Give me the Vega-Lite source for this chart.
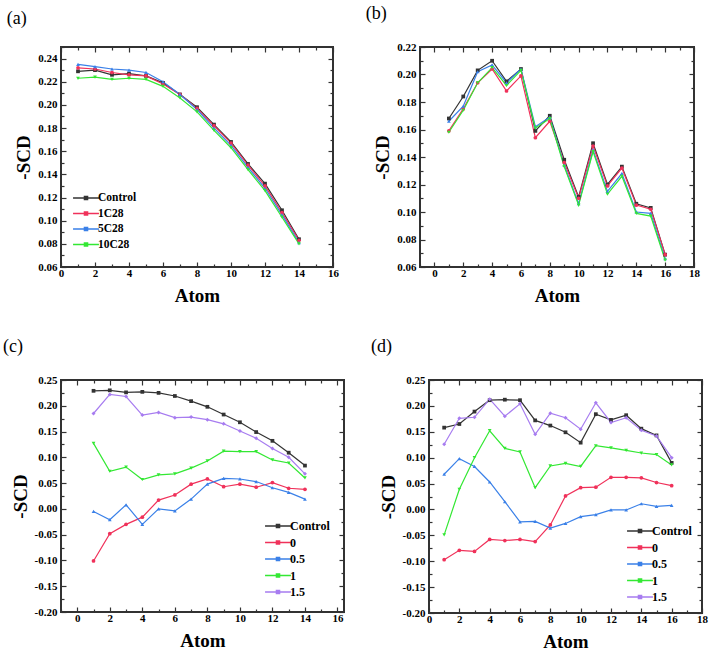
{
"$schema":"https://vega.github.io/schema/vega-lite/v6.json",
"background":"white",
"padding":{"left":2,"top":4,"right":2,"bottom":2},
"autosize":{"type":"pad"},
"config":{
 "view":{"stroke":"#333333","strokeWidth":1.5},
 "font":"Liberation Serif",
 "axis":{"domain":false,"grid":false,"ticks":true,"tickOpacity":1,"labelFont":"Liberation Serif","labelFontWeight":"bold","labelFontSize":11,"labelColor":"black","titleFont":"Liberation Serif","titleFontWeight":"bold","titleFontSize":19,"titleColor":"black","tickColor":"#333333","tickWidth":1.2,"labelFlush":false,"labelOverlap":false},
 "legend":{"labelFont":"Liberation Serif","labelFontWeight":"bold","labelFontSize":11.5,"labelColor":"black","padding":0,"rowPadding":1.5,"title":null,"symbolSize":196,"symbolStrokeWidth":1.5,"labelOffset":4},
 "title":{"font":"Liberation Serif","fontSize":18,"fontWeight":"normal","color":"black","anchor":"start","frame":"bounds","offset":18}
},
"datasets":{
"a":[
{"atom":1,"value":0.229,"series":"Control"},{"atom":2,"value":0.230,"series":"Control"},{"atom":3,"value":0.226,"series":"Control"},{"atom":4,"value":0.227,"series":"Control"},{"atom":5,"value":0.225,"series":"Control"},{"atom":6,"value":0.219,"series":"Control"},{"atom":7,"value":0.209,"series":"Control"},{"atom":8,"value":0.198,"series":"Control"},{"atom":9,"value":0.183,"series":"Control"},{"atom":10,"value":0.168,"series":"Control"},{"atom":11,"value":0.149,"series":"Control"},{"atom":12,"value":0.132,"series":"Control"},{"atom":13,"value":0.109,"series":"Control"},{"atom":14,"value":0.084,"series":"Control"},
{"atom":1,"value":0.232,"series":"1C28"},{"atom":2,"value":0.231,"series":"1C28"},{"atom":3,"value":0.228,"series":"1C28"},{"atom":4,"value":0.226,"series":"1C28"},{"atom":5,"value":0.225,"series":"1C28"},{"atom":6,"value":0.218,"series":"1C28"},{"atom":7,"value":0.209,"series":"1C28"},{"atom":8,"value":0.197,"series":"1C28"},{"atom":9,"value":0.182,"series":"1C28"},{"atom":10,"value":0.167,"series":"1C28"},{"atom":11,"value":0.148,"series":"1C28"},{"atom":12,"value":0.130,"series":"1C28"},{"atom":13,"value":0.107,"series":"1C28"},{"atom":14,"value":0.083,"series":"1C28"},
{"atom":1,"value":0.235,"series":"5C28"},{"atom":2,"value":0.233,"series":"5C28"},{"atom":3,"value":0.231,"series":"5C28"},{"atom":4,"value":0.230,"series":"5C28"},{"atom":5,"value":0.228,"series":"5C28"},{"atom":6,"value":0.220,"series":"5C28"},{"atom":7,"value":0.209,"series":"5C28"},{"atom":8,"value":0.196,"series":"5C28"},{"atom":9,"value":0.180,"series":"5C28"},{"atom":10,"value":0.165,"series":"5C28"},{"atom":11,"value":0.146,"series":"5C28"},{"atom":12,"value":0.128,"series":"5C28"},{"atom":13,"value":0.105,"series":"5C28"},{"atom":14,"value":0.081,"series":"5C28"},
{"atom":1,"value":0.223,"series":"10C28"},{"atom":2,"value":0.224,"series":"10C28"},{"atom":3,"value":0.222,"series":"10C28"},{"atom":4,"value":0.223,"series":"10C28"},{"atom":5,"value":0.222,"series":"10C28"},{"atom":6,"value":0.216,"series":"10C28"},{"atom":7,"value":0.206,"series":"10C28"},{"atom":8,"value":0.194,"series":"10C28"},{"atom":9,"value":0.178,"series":"10C28"},{"atom":10,"value":0.163,"series":"10C28"},{"atom":11,"value":0.144,"series":"10C28"},{"atom":12,"value":0.126,"series":"10C28"},{"atom":13,"value":0.103,"series":"10C28"},{"atom":14,"value":0.080,"series":"10C28"}
],
"b":[
{"atom":1,"value":0.168,"series":"Control"},{"atom":2,"value":0.184,"series":"Control"},{"atom":3,"value":0.203,"series":"Control"},{"atom":4,"value":0.210,"series":"Control"},{"atom":5,"value":0.195,"series":"Control"},{"atom":6,"value":0.204,"series":"Control"},{"atom":7,"value":0.159,"series":"Control"},{"atom":8,"value":0.170,"series":"Control"},{"atom":9,"value":0.138,"series":"Control"},{"atom":10,"value":0.111,"series":"Control"},{"atom":11,"value":0.150,"series":"Control"},{"atom":12,"value":0.120,"series":"Control"},{"atom":13,"value":0.133,"series":"Control"},{"atom":14,"value":0.106,"series":"Control"},{"atom":15,"value":0.103,"series":"Control"},{"atom":16,"value":0.069,"series":"Control"},
{"atom":1,"value":0.159,"series":"1C28"},{"atom":2,"value":0.175,"series":"1C28"},{"atom":3,"value":0.194,"series":"1C28"},{"atom":4,"value":0.204,"series":"1C28"},{"atom":5,"value":0.188,"series":"1C28"},{"atom":6,"value":0.199,"series":"1C28"},{"atom":7,"value":0.154,"series":"1C28"},{"atom":8,"value":0.166,"series":"1C28"},{"atom":9,"value":0.136,"series":"1C28"},{"atom":10,"value":0.110,"series":"1C28"},{"atom":11,"value":0.148,"series":"1C28"},{"atom":12,"value":0.119,"series":"1C28"},{"atom":13,"value":0.132,"series":"1C28"},{"atom":14,"value":0.105,"series":"1C28"},{"atom":15,"value":0.102,"series":"1C28"},{"atom":16,"value":0.069,"series":"1C28"},
{"atom":1,"value":0.166,"series":"5C28"},{"atom":2,"value":0.177,"series":"5C28"},{"atom":3,"value":0.202,"series":"5C28"},{"atom":4,"value":0.207,"series":"5C28"},{"atom":5,"value":0.194,"series":"5C28"},{"atom":6,"value":0.204,"series":"5C28"},{"atom":7,"value":0.162,"series":"5C28"},{"atom":8,"value":0.169,"series":"5C28"},{"atom":9,"value":0.134,"series":"5C28"},{"atom":10,"value":0.106,"series":"5C28"},{"atom":11,"value":0.145,"series":"5C28"},{"atom":12,"value":0.115,"series":"5C28"},{"atom":13,"value":0.128,"series":"5C28"},{"atom":14,"value":0.100,"series":"5C28"},{"atom":15,"value":0.099,"series":"5C28"},{"atom":16,"value":0.066,"series":"5C28"},
{"atom":1,"value":0.158,"series":"10C28"},{"atom":2,"value":0.174,"series":"10C28"},{"atom":3,"value":0.194,"series":"10C28"},{"atom":4,"value":0.205,"series":"10C28"},{"atom":5,"value":0.192,"series":"10C28"},{"atom":6,"value":0.203,"series":"10C28"},{"atom":7,"value":0.161,"series":"10C28"},{"atom":8,"value":0.168,"series":"10C28"},{"atom":9,"value":0.133,"series":"10C28"},{"atom":10,"value":0.105,"series":"10C28"},{"atom":11,"value":0.144,"series":"10C28"},{"atom":12,"value":0.113,"series":"10C28"},{"atom":13,"value":0.126,"series":"10C28"},{"atom":14,"value":0.099,"series":"10C28"},{"atom":15,"value":0.097,"series":"10C28"},{"atom":16,"value":0.065,"series":"10C28"}
],
"c":[
{"atom":1,"value":0.229,"series":"Control"},{"atom":2,"value":0.230,"series":"Control"},{"atom":3,"value":0.226,"series":"Control"},{"atom":4,"value":0.227,"series":"Control"},{"atom":5,"value":0.225,"series":"Control"},{"atom":6,"value":0.219,"series":"Control"},{"atom":7,"value":0.209,"series":"Control"},{"atom":8,"value":0.198,"series":"Control"},{"atom":9,"value":0.183,"series":"Control"},{"atom":10,"value":0.168,"series":"Control"},{"atom":11,"value":0.149,"series":"Control"},{"atom":12,"value":0.132,"series":"Control"},{"atom":13,"value":0.109,"series":"Control"},{"atom":14,"value":0.084,"series":"Control"},
{"atom":1,"value":-0.101,"series":"0"},{"atom":2,"value":-0.048,"series":"0"},{"atom":3,"value":-0.030,"series":"0"},{"atom":4,"value":-0.016,"series":"0"},{"atom":5,"value":0.017,"series":"0"},{"atom":6,"value":0.027,"series":"0"},{"atom":7,"value":0.048,"series":"0"},{"atom":8,"value":0.058,"series":"0"},{"atom":9,"value":0.043,"series":"0"},{"atom":10,"value":0.048,"series":"0"},{"atom":11,"value":0.042,"series":"0"},{"atom":12,"value":0.051,"series":"0"},{"atom":13,"value":0.040,"series":"0"},{"atom":14,"value":0.038,"series":"0"},
{"atom":1,"value":-0.005,"series":"0.5"},{"atom":2,"value":-0.021,"series":"0.5"},{"atom":3,"value":0.008,"series":"0.5"},{"atom":4,"value":-0.030,"series":"0.5"},{"atom":5,"value":0.000,"series":"0.5"},{"atom":6,"value":-0.004,"series":"0.5"},{"atom":7,"value":0.019,"series":"0.5"},{"atom":8,"value":0.048,"series":"0.5"},{"atom":9,"value":0.059,"series":"0.5"},{"atom":10,"value":0.058,"series":"0.5"},{"atom":11,"value":0.053,"series":"0.5"},{"atom":12,"value":0.041,"series":"0.5"},{"atom":13,"value":0.032,"series":"0.5"},{"atom":14,"value":0.019,"series":"0.5"},
{"atom":1,"value":0.127,"series":"1"},{"atom":2,"value":0.073,"series":"1"},{"atom":3,"value":0.081,"series":"1"},{"atom":4,"value":0.057,"series":"1"},{"atom":5,"value":0.066,"series":"1"},{"atom":6,"value":0.068,"series":"1"},{"atom":7,"value":0.079,"series":"1"},{"atom":8,"value":0.093,"series":"1"},{"atom":9,"value":0.112,"series":"1"},{"atom":10,"value":0.111,"series":"1"},{"atom":11,"value":0.111,"series":"1"},{"atom":12,"value":0.095,"series":"1"},{"atom":13,"value":0.089,"series":"1"},{"atom":14,"value":0.060,"series":"1"},
{"atom":1,"value":0.185,"series":"1.5"},{"atom":2,"value":0.222,"series":"1.5"},{"atom":3,"value":0.218,"series":"1.5"},{"atom":4,"value":0.182,"series":"1.5"},{"atom":5,"value":0.187,"series":"1.5"},{"atom":6,"value":0.177,"series":"1.5"},{"atom":7,"value":0.178,"series":"1.5"},{"atom":8,"value":0.173,"series":"1.5"},{"atom":9,"value":0.165,"series":"1.5"},{"atom":10,"value":0.151,"series":"1.5"},{"atom":11,"value":0.137,"series":"1.5"},{"atom":12,"value":0.117,"series":"1.5"},{"atom":13,"value":0.100,"series":"1.5"},{"atom":14,"value":0.068,"series":"1.5"}
],
"d":[
{"atom":1,"value":0.158,"series":"Control"},{"atom":2,"value":0.165,"series":"Control"},{"atom":3,"value":0.189,"series":"Control"},{"atom":4,"value":0.211,"series":"Control"},{"atom":5,"value":0.212,"series":"Control"},{"atom":6,"value":0.211,"series":"Control"},{"atom":7,"value":0.172,"series":"Control"},{"atom":8,"value":0.162,"series":"Control"},{"atom":9,"value":0.149,"series":"Control"},{"atom":10,"value":0.129,"series":"Control"},{"atom":11,"value":0.184,"series":"Control"},{"atom":12,"value":0.173,"series":"Control"},{"atom":13,"value":0.182,"series":"Control"},{"atom":14,"value":0.156,"series":"Control"},{"atom":15,"value":0.143,"series":"Control"},{"atom":16,"value":0.090,"series":"Control"},
{"atom":1,"value":-0.097,"series":"0"},{"atom":2,"value":-0.079,"series":"0"},{"atom":3,"value":-0.081,"series":"0"},{"atom":4,"value":-0.058,"series":"0"},{"atom":5,"value":-0.060,"series":"0"},{"atom":6,"value":-0.058,"series":"0"},{"atom":7,"value":-0.062,"series":"0"},{"atom":8,"value":-0.030,"series":"0"},{"atom":9,"value":0.026,"series":"0"},{"atom":10,"value":0.042,"series":"0"},{"atom":11,"value":0.043,"series":"0"},{"atom":12,"value":0.062,"series":"0"},{"atom":13,"value":0.062,"series":"0"},{"atom":14,"value":0.061,"series":"0"},{"atom":15,"value":0.052,"series":"0"},{"atom":16,"value":0.046,"series":"0"},
{"atom":1,"value":0.068,"series":"0.5"},{"atom":2,"value":0.098,"series":"0.5"},{"atom":3,"value":0.083,"series":"0.5"},{"atom":4,"value":0.053,"series":"0.5"},{"atom":5,"value":0.015,"series":"0.5"},{"atom":6,"value":-0.024,"series":"0.5"},{"atom":7,"value":-0.023,"series":"0.5"},{"atom":8,"value":-0.036,"series":"0.5"},{"atom":9,"value":-0.027,"series":"0.5"},{"atom":10,"value":-0.014,"series":"0.5"},{"atom":11,"value":-0.010,"series":"0.5"},{"atom":12,"value":-0.001,"series":"0.5"},{"atom":13,"value":-0.001,"series":"0.5"},{"atom":14,"value":0.011,"series":"0.5"},{"atom":15,"value":0.006,"series":"0.5"},{"atom":16,"value":0.008,"series":"0.5"},
{"atom":1,"value":-0.049,"series":"1"},{"atom":2,"value":0.039,"series":"1"},{"atom":3,"value":0.100,"series":"1"},{"atom":4,"value":0.152,"series":"1"},{"atom":5,"value":0.118,"series":"1"},{"atom":6,"value":0.111,"series":"1"},{"atom":7,"value":0.042,"series":"1"},{"atom":8,"value":0.084,"series":"1"},{"atom":9,"value":0.089,"series":"1"},{"atom":10,"value":0.083,"series":"1"},{"atom":11,"value":0.123,"series":"1"},{"atom":12,"value":0.119,"series":"1"},{"atom":13,"value":0.114,"series":"1"},{"atom":14,"value":0.109,"series":"1"},{"atom":15,"value":0.106,"series":"1"},{"atom":16,"value":0.086,"series":"1"},
{"atom":1,"value":0.126,"series":"1.5"},{"atom":2,"value":0.176,"series":"1.5"},{"atom":3,"value":0.178,"series":"1.5"},{"atom":4,"value":0.213,"series":"1.5"},{"atom":5,"value":0.180,"series":"1.5"},{"atom":6,"value":0.204,"series":"1.5"},{"atom":7,"value":0.145,"series":"1.5"},{"atom":8,"value":0.186,"series":"1.5"},{"atom":9,"value":0.177,"series":"1.5"},{"atom":10,"value":0.155,"series":"1.5"},{"atom":11,"value":0.206,"series":"1.5"},{"atom":12,"value":0.168,"series":"1.5"},{"atom":13,"value":0.177,"series":"1.5"},{"atom":14,"value":0.153,"series":"1.5"},{"atom":15,"value":0.142,"series":"1.5"},{"atom":16,"value":0.100,"series":"1.5"}
]
},
"spacing":31,
"resolve":{"scale":{"color":"independent"},"legend":{"color":"independent"}},
"vconcat":[
{"hconcat":[
 {"title":{"text":"(a)","dx":-8},"width":272,"height":220,"data":{"name":"a"},
  "resolve":{"axis":{"x":"independent","y":"independent"}},
  "layer":[
   {"mark":{"type":"line","strokeWidth":1.2},
    "encoding":{
     "x":{"field":"atom","type":"quantitative","scale":{"domain":[0,16],"nice":false,"zero":false},"axis":{"orient":"bottom","title":"Atom","titlePadding":8,"labelPadding":5,"values":[0,2,4,6,8,10,12,14,16],"format":"d","tickSize":-5}},
     "y":{"field":"value","type":"quantitative","scale":{"domain":[0.06,0.25],"nice":false,"zero":false},"axis":{"orient":"left","title":"-SCD","titlePadding":4,"labelPadding":9,"values":[0.06,0.08,0.10,0.12,0.14,0.16,0.18,0.20,0.22,0.24],"format":".2f","tickSize":-5}},
     "color":{"field":"series","type":"nominal","scale":{"domain":["Control","1C28","5C28","10C28"],"range":["#333333","#f0315a","#3a80e8","#33e833"]},"legend":{"orient":"bottom-left","offset":17,"symbolType":"M-1.85,0H1.85M-0.22,-0.22H0.22V0.22H-0.22Z"}}}},
   {"mark":{"type":"point","opacity":0},
    "encoding":{
     "x":{"field":"atom","type":"quantitative","axis":{"orient":"top","title":null,"labels":false,"values":[0,2,4,6,8,10,12,14,16],"tickSize":-5}},
     "y":{"field":"value","type":"quantitative","axis":{"orient":"right","title":null,"labels":false,"values":[0.06,0.08,0.10,0.12,0.14,0.16,0.18,0.20,0.22,0.24],"tickSize":-5}}}},
   {"mark":{"type":"point","opacity":0},
    "encoding":{
     "x":{"field":"atom","type":"quantitative","axis":{"orient":"bottom","title":null,"labels":false,"values":[1,3,5,7,9,11,13,15],"tickSize":-3}},
     "y":{"field":"value","type":"quantitative","axis":{"orient":"left","title":null,"labels":false,"values":[0.07,0.09,0.11,0.13,0.15,0.17,0.19,0.21,0.23,0.25],"tickSize":-3}}}},
   {"mark":{"type":"point","opacity":0},
    "encoding":{
     "x":{"field":"atom","type":"quantitative","axis":{"orient":"top","title":null,"labels":false,"values":[1,3,5,7,9,11,13,15],"tickSize":-3}},
     "y":{"field":"value","type":"quantitative","axis":{"orient":"right","title":null,"labels":false,"values":[0.07,0.09,0.11,0.13,0.15,0.17,0.19,0.21,0.23,0.25],"tickSize":-3}}}},
   {"mark":{"type":"rect","fill":"transparent","stroke":"#333333","strokeWidth":1.5},"encoding":{"x":{"datum":0,"type":"quantitative","axis":null},"x2":{"datum":16},"y":{"datum":0.06,"type":"quantitative","axis":null},"y2":{"datum":0.25}}},
   {"transform":[{"filter":"datum.series === 'Control'"}],"mark":{"type":"point","shape":"square","filled":true,"size":14,"opacity":1,"color":"#333333"},"encoding":{"x":{"field":"atom","type":"quantitative","axis":null},"y":{"field":"value","type":"quantitative","axis":null}}},
   {"transform":[{"filter":"datum.series === '1C28'"}],"mark":{"type":"point","shape":"circle","filled":true,"size":14,"opacity":1,"color":"#f0315a"},"encoding":{"x":{"field":"atom","type":"quantitative","axis":null},"y":{"field":"value","type":"quantitative","axis":null}}},
   {"transform":[{"filter":"datum.series === '5C28'"}],"mark":{"type":"point","shape":"triangle-up","filled":true,"size":14,"opacity":1,"color":"#3a80e8"},"encoding":{"x":{"field":"atom","type":"quantitative","axis":null},"y":{"field":"value","type":"quantitative","axis":null}}},
   {"transform":[{"filter":"datum.series === '10C28'"}],"mark":{"type":"point","shape":"triangle-down","filled":true,"size":14,"opacity":1,"color":"#33e833"},"encoding":{"x":{"field":"atom","type":"quantitative","axis":null},"y":{"field":"value","type":"quantitative","axis":null}}}
  ]},
 {"title":{"text":"(b)","dx":-8},"width":274,"height":220,"data":{"name":"b"},
  "resolve":{"axis":{"x":"independent","y":"independent"}},
  "layer":[
   {"mark":{"type":"line","strokeWidth":1.2},
    "encoding":{
     "x":{"field":"atom","type":"quantitative","scale":{"domain":[-1,18],"nice":false,"zero":false},"axis":{"orient":"bottom","title":"Atom","titlePadding":8,"labelPadding":5,"values":[0,2,4,6,8,10,12,14,16,18],"format":"d","tickSize":-5}},
     "y":{"field":"value","type":"quantitative","scale":{"domain":[0.06,0.22],"nice":false,"zero":false},"axis":{"orient":"left","title":"-SCD","titlePadding":4,"labelPadding":9,"values":[0.06,0.08,0.10,0.12,0.14,0.16,0.18,0.20,0.22],"format":".2f","tickSize":-5}},
     "color":{"field":"series","type":"nominal","scale":{"domain":["Control","1C28","5C28","10C28"],"range":["#333333","#f0315a","#3a80e8","#33e833"]},"legend":null}}},
   {"mark":{"type":"point","opacity":0},
    "encoding":{
     "x":{"field":"atom","type":"quantitative","axis":{"orient":"top","title":null,"labels":false,"values":[0,2,4,6,8,10,12,14,16,18],"tickSize":-5}},
     "y":{"field":"value","type":"quantitative","axis":{"orient":"right","title":null,"labels":false,"values":[0.06,0.08,0.10,0.12,0.14,0.16,0.18,0.20,0.22],"tickSize":-5}}}},
   {"mark":{"type":"point","opacity":0},
    "encoding":{
     "x":{"field":"atom","type":"quantitative","axis":{"orient":"bottom","title":null,"labels":false,"values":[-1,1,3,5,7,9,11,13,15,17],"tickSize":-3}},
     "y":{"field":"value","type":"quantitative","axis":{"orient":"left","title":null,"labels":false,"values":[0.07,0.09,0.11,0.13,0.15,0.17,0.19,0.21],"tickSize":-3}}}},
   {"mark":{"type":"point","opacity":0},
    "encoding":{
     "x":{"field":"atom","type":"quantitative","axis":{"orient":"top","title":null,"labels":false,"values":[-1,1,3,5,7,9,11,13,15,17],"tickSize":-3}},
     "y":{"field":"value","type":"quantitative","axis":{"orient":"right","title":null,"labels":false,"values":[0.07,0.09,0.11,0.13,0.15,0.17,0.19,0.21],"tickSize":-3}}}},
   {"mark":{"type":"rect","fill":"transparent","stroke":"#333333","strokeWidth":1.5},"encoding":{"x":{"datum":-1,"type":"quantitative","axis":null},"x2":{"datum":18},"y":{"datum":0.06,"type":"quantitative","axis":null},"y2":{"datum":0.22}}},
   {"transform":[{"filter":"datum.series === 'Control'"}],"mark":{"type":"point","shape":"square","filled":true,"size":14,"opacity":1,"color":"#333333"},"encoding":{"x":{"field":"atom","type":"quantitative","axis":null},"y":{"field":"value","type":"quantitative","axis":null}}},
   {"transform":[{"filter":"datum.series === '1C28'"}],"mark":{"type":"point","shape":"circle","filled":true,"size":14,"opacity":1,"color":"#f0315a"},"encoding":{"x":{"field":"atom","type":"quantitative","axis":null},"y":{"field":"value","type":"quantitative","axis":null}}},
   {"transform":[{"filter":"datum.series === '5C28'"}],"mark":{"type":"point","shape":"triangle-up","filled":true,"size":14,"opacity":1,"color":"#3a80e8"},"encoding":{"x":{"field":"atom","type":"quantitative","axis":null},"y":{"field":"value","type":"quantitative","axis":null}}},
   {"transform":[{"filter":"datum.series === '10C28'"}],"mark":{"type":"point","shape":"triangle-down","filled":true,"size":14,"opacity":1,"color":"#33e833"},"encoding":{"x":{"field":"atom","type":"quantitative","axis":null},"y":{"field":"value","type":"quantitative","axis":null}}}
  ]}
 ],"spacing":25,
 "resolve":{"scale":{"color":"independent"},"legend":{"color":"independent"}}},
{"hconcat":[
 {"title":{"text":"(c)","dx":-8},"width":283,"height":232,"data":{"name":"c"},
  "resolve":{"axis":{"x":"independent","y":"independent"}},
  "layer":[
   {"mark":{"type":"line","strokeWidth":1.2},
    "encoding":{
     "x":{"field":"atom","type":"quantitative","scale":{"domain":[-1,16.4],"nice":false,"zero":false},"axis":{"orient":"bottom","title":"Atom","titlePadding":8,"labelPadding":5,"values":[0,2,4,6,8,10,12,14,16],"format":"d","tickSize":-5}},
     "y":{"field":"value","type":"quantitative","scale":{"domain":[-0.2,0.25],"nice":false,"zero":false},"axis":{"orient":"left","title":"-SCD","titlePadding":4,"labelPadding":9,"values":[-0.2,-0.15,-0.1,-0.05,0,0.05,0.1,0.15,0.2,0.25],"labelExpr":"replace(format(datum.value,'.2f'),'−','-')","tickSize":-5}},
     "color":{"field":"series","type":"nominal","scale":{"domain":["Control","0","0.5","1","1.5"],"range":["#333333","#f0315a","#3a80e8","#33e833","#a77cf0"]},"legend":{"orient":"bottom-right","offset":14,"labelFontSize":12,"rowPadding":2.5,"symbolType":"M-1.85,0H1.85M-0.22,-0.22H0.22V0.22H-0.22Z"}}}},
   {"mark":{"type":"point","opacity":0},
    "encoding":{
     "x":{"field":"atom","type":"quantitative","axis":{"orient":"top","title":null,"labels":false,"values":[0,2,4,6,8,10,12,14,16],"tickSize":-5}},
     "y":{"field":"value","type":"quantitative","axis":{"orient":"right","title":null,"labels":false,"values":[-0.2,-0.15,-0.1,-0.05,0,0.05,0.1,0.15,0.2,0.25],"tickSize":-5}}}},
   {"mark":{"type":"point","opacity":0},
    "encoding":{
     "x":{"field":"atom","type":"quantitative","axis":{"orient":"bottom","title":null,"labels":false,"values":[-1,1,3,5,7,9,11,13,15],"tickSize":-3}},
     "y":{"field":"value","type":"quantitative","axis":{"orient":"left","title":null,"labels":false,"values":[-0.175,-0.125,-0.075,-0.025,0.025,0.075,0.125,0.175,0.225],"tickSize":-3}}}},
   {"mark":{"type":"point","opacity":0},
    "encoding":{
     "x":{"field":"atom","type":"quantitative","axis":{"orient":"top","title":null,"labels":false,"values":[-1,1,3,5,7,9,11,13,15],"tickSize":-3}},
     "y":{"field":"value","type":"quantitative","axis":{"orient":"right","title":null,"labels":false,"values":[-0.175,-0.125,-0.075,-0.025,0.025,0.075,0.125,0.175,0.225],"tickSize":-3}}}},
   {"mark":{"type":"rect","fill":"transparent","stroke":"#333333","strokeWidth":1.5},"encoding":{"x":{"datum":-1,"type":"quantitative","axis":null},"x2":{"datum":16.4},"y":{"datum":-0.2,"type":"quantitative","axis":null},"y2":{"datum":0.25}}},
   {"transform":[{"filter":"datum.series === 'Control'"}],"mark":{"type":"point","shape":"square","filled":true,"size":14,"opacity":1,"color":"#333333"},"encoding":{"x":{"field":"atom","type":"quantitative","axis":null},"y":{"field":"value","type":"quantitative","axis":null}}},
   {"transform":[{"filter":"datum.series === '0'"}],"mark":{"type":"point","shape":"circle","filled":true,"size":14,"opacity":1,"color":"#f0315a"},"encoding":{"x":{"field":"atom","type":"quantitative","axis":null},"y":{"field":"value","type":"quantitative","axis":null}}},
   {"transform":[{"filter":"datum.series === '0.5'"}],"mark":{"type":"point","shape":"triangle-up","filled":true,"size":14,"opacity":1,"color":"#3a80e8"},"encoding":{"x":{"field":"atom","type":"quantitative","axis":null},"y":{"field":"value","type":"quantitative","axis":null}}},
   {"transform":[{"filter":"datum.series === '1'"}],"mark":{"type":"point","shape":"triangle-down","filled":true,"size":14,"opacity":1,"color":"#33e833"},"encoding":{"x":{"field":"atom","type":"quantitative","axis":null},"y":{"field":"value","type":"quantitative","axis":null}}},
   {"transform":[{"filter":"datum.series === '1.5'"}],"mark":{"type":"point","shape":"diamond","filled":true,"size":16,"opacity":1,"color":"#a77cf0"},"encoding":{"x":{"field":"atom","type":"quantitative","axis":null},"y":{"field":"value","type":"quantitative","axis":null}}}
  ]},
 {"title":{"text":"(d)","dx":-8},"width":273,"height":233,"data":{"name":"d"},
  "resolve":{"axis":{"x":"independent","y":"independent"}},
  "layer":[
   {"mark":{"type":"line","strokeWidth":1.2},
    "encoding":{
     "x":{"field":"atom","type":"quantitative","scale":{"domain":[0,18],"nice":false,"zero":false},"axis":{"orient":"bottom","title":"Atom","titlePadding":8,"labelPadding":5,"values":[0,2,4,6,8,10,12,14,16,18],"format":"d","tickSize":-5}},
     "y":{"field":"value","type":"quantitative","scale":{"domain":[-0.2,0.25],"nice":false,"zero":false},"axis":{"orient":"left","title":"-SCD","titlePadding":4,"labelPadding":9,"values":[-0.2,-0.15,-0.1,-0.05,0,0.05,0.1,0.15,0.2,0.25],"labelExpr":"replace(format(datum.value,'.2f'),'−','-')","tickSize":-5}},
     "color":{"field":"series","type":"nominal","scale":{"domain":["Control","0","0.5","1","1.5"],"range":["#333333","#f0315a","#3a80e8","#33e833","#a77cf0"]},"legend":{"orient":"bottom-right","offset":10,"labelFontSize":12,"rowPadding":2.5,"symbolType":"M-1.85,0H1.85M-0.22,-0.22H0.22V0.22H-0.22Z"}}}},
   {"mark":{"type":"point","opacity":0},
    "encoding":{
     "x":{"field":"atom","type":"quantitative","axis":{"orient":"top","title":null,"labels":false,"values":[0,2,4,6,8,10,12,14,16,18],"tickSize":-5}},
     "y":{"field":"value","type":"quantitative","axis":{"orient":"right","title":null,"labels":false,"values":[-0.2,-0.15,-0.1,-0.05,0,0.05,0.1,0.15,0.2,0.25],"tickSize":-5}}}},
   {"mark":{"type":"point","opacity":0},
    "encoding":{
     "x":{"field":"atom","type":"quantitative","axis":{"orient":"bottom","title":null,"labels":false,"values":[1,3,5,7,9,11,13,15,17],"tickSize":-3}},
     "y":{"field":"value","type":"quantitative","axis":{"orient":"left","title":null,"labels":false,"values":[-0.175,-0.125,-0.075,-0.025,0.025,0.075,0.125,0.175,0.225],"tickSize":-3}}}},
   {"mark":{"type":"point","opacity":0},
    "encoding":{
     "x":{"field":"atom","type":"quantitative","axis":{"orient":"top","title":null,"labels":false,"values":[1,3,5,7,9,11,13,15,17],"tickSize":-3}},
     "y":{"field":"value","type":"quantitative","axis":{"orient":"right","title":null,"labels":false,"values":[-0.175,-0.125,-0.075,-0.025,0.025,0.075,0.125,0.175,0.225],"tickSize":-3}}}},
   {"mark":{"type":"rect","fill":"transparent","stroke":"#333333","strokeWidth":1.5},"encoding":{"x":{"datum":0,"type":"quantitative","axis":null},"x2":{"datum":18},"y":{"datum":-0.2,"type":"quantitative","axis":null},"y2":{"datum":0.25}}},
   {"transform":[{"filter":"datum.series === 'Control'"}],"mark":{"type":"point","shape":"square","filled":true,"size":14,"opacity":1,"color":"#333333"},"encoding":{"x":{"field":"atom","type":"quantitative","axis":null},"y":{"field":"value","type":"quantitative","axis":null}}},
   {"transform":[{"filter":"datum.series === '0'"}],"mark":{"type":"point","shape":"circle","filled":true,"size":14,"opacity":1,"color":"#f0315a"},"encoding":{"x":{"field":"atom","type":"quantitative","axis":null},"y":{"field":"value","type":"quantitative","axis":null}}},
   {"transform":[{"filter":"datum.series === '0.5'"}],"mark":{"type":"point","shape":"triangle-up","filled":true,"size":14,"opacity":1,"color":"#3a80e8"},"encoding":{"x":{"field":"atom","type":"quantitative","axis":null},"y":{"field":"value","type":"quantitative","axis":null}}},
   {"transform":[{"filter":"datum.series === '1'"}],"mark":{"type":"point","shape":"triangle-down","filled":true,"size":14,"opacity":1,"color":"#33e833"},"encoding":{"x":{"field":"atom","type":"quantitative","axis":null},"y":{"field":"value","type":"quantitative","axis":null}}},
   {"transform":[{"filter":"datum.series === '1.5'"}],"mark":{"type":"point","shape":"diamond","filled":true,"size":16,"opacity":1,"color":"#a77cf0"},"encoding":{"x":{"field":"atom","type":"quantitative","axis":null},"y":{"field":"value","type":"quantitative","axis":null}}}
  ]}
 ],"spacing":24,
 "resolve":{"scale":{"color":"independent"},"legend":{"color":"independent"}}}
]
}
